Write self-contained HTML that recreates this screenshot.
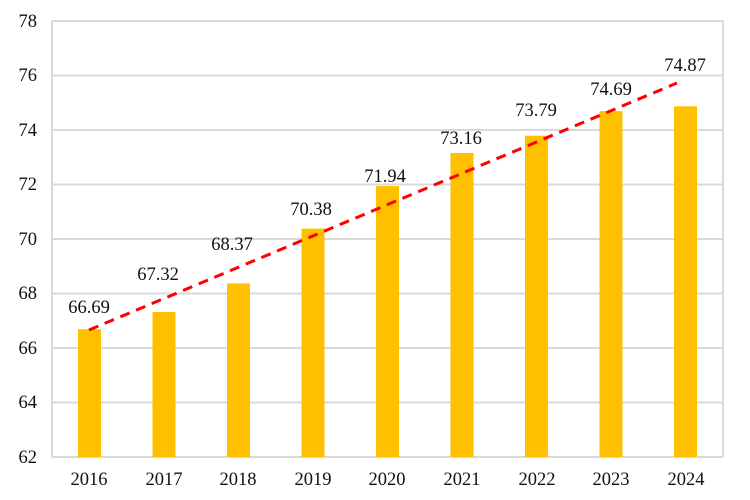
<!DOCTYPE html>
<html><head><meta charset="utf-8"><style>body{margin:0;background:#fff}svg{display:block}text{font-family:"Liberation Serif",serif;fill:#111}</style></head><body>
<svg width="750" height="500" viewBox="0 0 750 500">
<g stroke="#d9d9d9" stroke-width="2" fill="none">
<line x1="52" y1="21" x2="723" y2="21"/><line x1="52" y1="75.5" x2="723" y2="75.5"/><line x1="52" y1="130" x2="723" y2="130"/><line x1="52" y1="184.5" x2="723" y2="184.5"/><line x1="52" y1="239" x2="723" y2="239"/><line x1="52" y1="293.5" x2="723" y2="293.5"/><line x1="52" y1="348" x2="723" y2="348"/><line x1="52" y1="402.5" x2="723" y2="402.5"/><line x1="52" y1="457" x2="723" y2="457"/>
<line x1="52" y1="21" x2="52" y2="457"/><line x1="723" y1="21" x2="723" y2="457"/>
</g>
<g font-size="18.5" text-anchor="end">
<text x="37" y="27">78</text><text x="37" y="81">76</text><text x="37" y="136">74</text><text x="37" y="190">72</text><text x="37" y="245">70</text><text x="37" y="299">68</text><text x="37" y="354">66</text><text x="37" y="408">64</text><text x="37" y="463">62</text>
</g>
<g fill="#ffc000">
<rect x="78" y="329.2" width="23" height="127.8"/><rect x="152.5" y="312" width="23" height="145"/><rect x="227" y="283.4" width="23" height="173.6"/><rect x="301.5" y="228.6" width="23" height="228.4"/><rect x="376" y="186.1" width="23" height="270.9"/><rect x="450.5" y="152.9" width="23" height="304.1"/><rect x="525" y="135.7" width="23" height="321.3"/><rect x="599.5" y="111.2" width="23" height="345.8"/><rect x="674" y="106.3" width="23" height="350.7"/>
</g>
<line x1="89" y1="330" x2="677" y2="83" stroke="#ff0000" stroke-width="3" stroke-dasharray="10,7"/>
<g font-size="18.5" text-anchor="middle">
<text x="89" y="313">66.69</text><text x="158" y="280">67.32</text><text x="232" y="250">68.37</text><text x="311" y="215">70.38</text><text x="385" y="182">71.94</text><text x="461" y="144">73.16</text><text x="536" y="116">73.79</text><text x="611" y="95">74.69</text><text x="685" y="71">74.87</text>
</g>
<g font-size="18.5" text-anchor="middle">
<text x="89" y="485">2016</text><text x="164" y="485">2017</text><text x="238" y="485">2018</text><text x="313" y="485">2019</text><text x="387" y="485">2020</text><text x="462" y="485">2021</text><text x="537" y="485">2022</text><text x="611" y="485">2023</text><text x="686" y="485">2024</text>
</g>
</svg>
</body></html>
